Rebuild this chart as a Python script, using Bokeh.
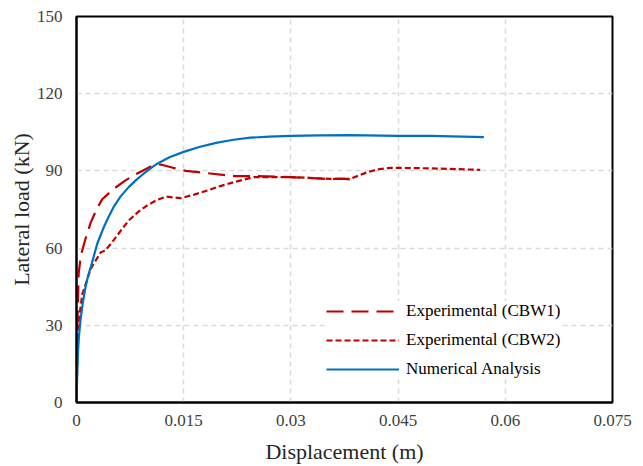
from bokeh.plotting import figure
from bokeh.models import FixedTicker, Range1d
from bokeh.embed import file_html
from bokeh.resources import INLINE

# CBW1 experimental (long dash)
cbw1_x = [0, 0.0001, 0.0003, 0.0006, 0.0013, 0.002, 0.0028, 0.0036, 0.0052, 0.0068, 0.0085, 0.0106, 0.0118,
          0.0135, 0.0153, 0.0187, 0.022, 0.0248, 0.030, 0.0355, 0.0372, 0.0393]
cbw1_y = [0, 27, 50, 57, 64, 70, 75, 79, 83, 86.2, 89, 92, 92.5,
          91.2, 90, 89, 88, 88, 87.6, 86.8, 87.0, 86.3]

# CBW2 experimental (short dash)
cbw2_x = [0, 0.0002, 0.0008, 0.002, 0.0034, 0.004, 0.005, 0.0062, 0.0073, 0.0086, 0.0099, 0.0112, 0.0125, 0.0146,
          0.0165, 0.0183, 0.020, 0.022, 0.0248, 0.030, 0.0355, 0.0383, 0.0395, 0.0407, 0.0422, 0.0439, 0.0495, 0.0565]
cbw2_y = [0, 29, 42, 52, 58.4, 59, 62.3, 66.8, 70.7, 74, 76.6, 78.6, 80, 79.4,
          80.8, 82.4, 84, 85.6, 87.6, 87.6, 86.9, 86.9, 88.2, 89.5, 90.6, 91.2, 91, 90.4]

# Numerical analysis (solid)
num_x = [0, 0.0001, 0.0002, 0.00035, 0.00056, 0.0009, 0.00126, 0.0016, 0.002, 0.0029, 0.0038, 0.0045, 0.0052,
         0.0062, 0.0073, 0.0084, 0.0094, 0.0103, 0.0113, 0.013, 0.015, 0.0173, 0.0197, 0.022, 0.0243, 0.027,
         0.030, 0.034, 0.0383, 0.0449, 0.0495, 0.057]
num_y = [0, 11, 19, 26, 32, 39, 44.8, 49, 52.6, 61.7, 68, 72.2, 76,
         80.2, 83.7, 86.6, 88.9, 90.9, 92.8, 95.3, 97.4, 99.4, 101, 102.1, 102.9, 103.3,
         103.6, 103.8, 103.9, 103.6, 103.6, 103.1]

x_ticks = [0, 0.015, 0.03, 0.045, 0.06, 0.075]
x_tick_labels = ["0", "0.015", "0.03", "0.045", "0.06", "0.075"]
y_ticks = [0, 30, 60, 90, 120, 150]

FONT = "Liberation Serif"

p = figure(width=635, height=466, output_backend="svg", toolbar_location=None,
           x_range=Range1d(0, 0.075), y_range=Range1d(0, 150),
           min_border_left=76, min_border_top=16, min_border_right=23, min_border_bottom=64)

p.line(cbw1_x, cbw1_y, line_color="#C00000", line_width=2.2, line_dash="17 8",
       legend_label="Experimental (CBW1)")
p.line(cbw2_x, cbw2_y, line_color="#C00000", line_width=2.2, line_dash="6 3",
       legend_label="Experimental (CBW2)")
p.line(num_x, num_y, line_color="#0070C0", line_width=2.2,
       legend_label="Numerical Analysis")

p.xaxis.ticker = FixedTicker(ticks=x_ticks)
p.xaxis.major_label_overrides = {t: l for t, l in zip(x_ticks, x_tick_labels)}
p.yaxis.ticker = FixedTicker(ticks=y_ticks)

for ax in (p.xaxis, p.yaxis):
    ax.major_tick_line_color = None
    ax.minor_tick_line_color = None
    ax.major_tick_out = 0
    ax.major_tick_in = 0
    ax.axis_line_color = "black"
    ax.axis_line_width = 2
    ax.major_label_text_font = FONT
    ax.major_label_text_font_size = "17px"
    ax.major_label_text_color = "#404040"
    ax.axis_label_text_font = FONT
    ax.axis_label_text_font_size = "22px"
    ax.axis_label_text_font_style = "normal"
    ax.axis_label_text_color = "#262626"

p.xaxis.axis_label = "Displacement (m)"
p.yaxis.axis_label = "Lateral load (kN)"
p.xaxis.major_label_standoff = 12
p.yaxis.major_label_standoff = 14
p.xaxis.axis_label_standoff = 10
p.yaxis.axis_label_standoff = 0

p.outline_line_color = "black"
p.outline_line_width = 2
p.outline_line_alpha = 1

p.xgrid.ticker = FixedTicker(ticks=x_ticks)
p.ygrid.ticker = FixedTicker(ticks=y_ticks)
for g in (p.xgrid, p.ygrid):
    g.grid_line_color = "#D9D9D9"
    g.grid_line_width = 1.5
    g.grid_line_dash = "5 4"

leg = p.legend[0]
leg.location = (250, 23)
leg.background_fill_color = "white"
leg.background_fill_alpha = 1
leg.border_line_color = None
leg.label_text_font = FONT
leg.label_text_font_size = "17px"
leg.label_text_color = "#000000"
leg.glyph_width = 73
leg.glyph_height = 20
leg.label_height = 20
leg.spacing = 9
leg.padding = 8
leg.label_standoff = 7
leg.margin = 0

open("out.html", "w").write(file_html(p, INLINE))
